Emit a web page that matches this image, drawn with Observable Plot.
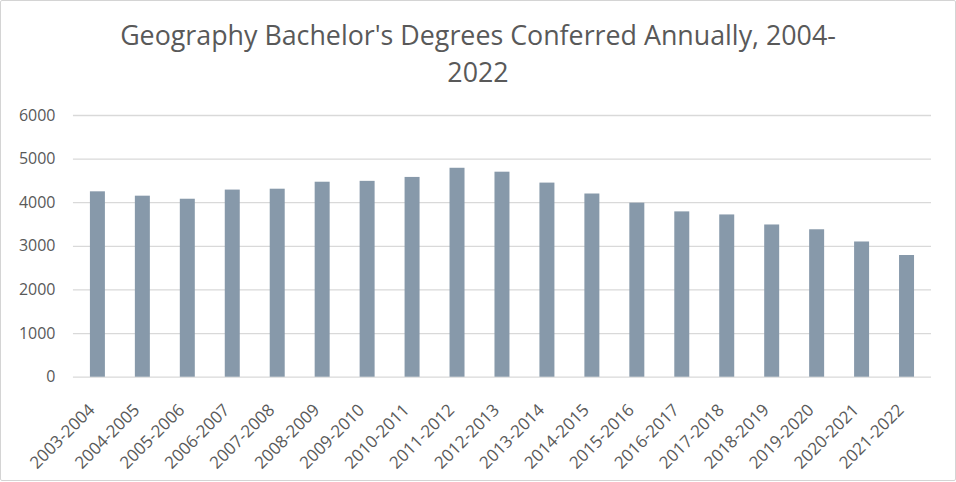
<!DOCTYPE html>
<html>
<head>
<meta charset="utf-8">
<script src="https://cdn.jsdelivr.net/npm/d3@7"></script>
<script src="https://cdn.jsdelivr.net/npm/@observablehq/plot@0.6"></script>
<style>
  html, body { margin: 0; padding: 0; background: #fff; }
  #frame {
    position: relative; width: 956px; height: 481px; box-sizing: border-box;
    border: 1px solid #d4d4d4; border-radius: 2px; overflow: hidden; background: #fff;
  }
  #title {
    position: absolute; left: 0; top: 15px; width: 100%; text-align: center;
    font-family: "Open Sans", sans-serif; font-size: 26.8px; line-height: 37px; color: #595959;
  }
  #chart { position: absolute; left: -1px; top: 99px; }
</style>
</head>
<body>
<div id="frame">
  <div id="title">Geography Bachelor's Degrees Conferred Annually, 2004-<br>2022</div>
  <div id="chart"></div>
</div>
<script>
const years = ["2003-2004","2004-2005","2005-2006","2006-2007","2007-2008","2008-2009","2009-2010","2010-2011","2011-2012","2012-2013","2013-2014","2014-2015","2015-2016","2016-2017","2017-2018","2018-2019","2019-2020","2020-2021","2021-2022"];
const degrees = [4250, 4150, 4080, 4290, 4310, 4470, 4490, 4580, 4790, 4700, 4450, 4200, 3990, 3790, 3720, 3490, 3380, 3100, 2790];
const yTicks = [0, 1000, 2000, 3000, 4000, 5000, 6000];

const data = years.map((y, i) => ({year: y, value: degrees[i]}));

const chart = Plot.plot({
  width: 956,
  height: 382,
  marginTop: 15,
  marginBottom: 105,
  marginLeft: 73,
  marginRight: 24,
  style: {fontFamily: "'Open Sans', sans-serif", fontSize: "16px", color: "#595959", background: "transparent"},
  x: {domain: years, paddingInner: 0.67, paddingOuter: 0.335, align: 0.5, label: null},
  y: {domain: [0, 6000], label: null},
  marks: [
    Plot.ruleY(yTicks, {stroke: "#d9d9d9", strokeWidth: 1.3}),
    Plot.barY(data, {x: "year", y: "value", fill: "#8799AA"}),
    Plot.axisY(yTicks, {tickSize: 0, tickPadding: 18, fontSize: 16, fill: "#595959", tickFormat: d3.format("d"), label: null}),
    Plot.axisX({tickSize: 0, tickPadding: 16, dy: 14, dx: -6, tickRotate: -45, fontSize: 17, fill: "#595959", label: null})
  ]
});
document.getElementById("chart").appendChild(chart);
</script>
</body>
</html>
